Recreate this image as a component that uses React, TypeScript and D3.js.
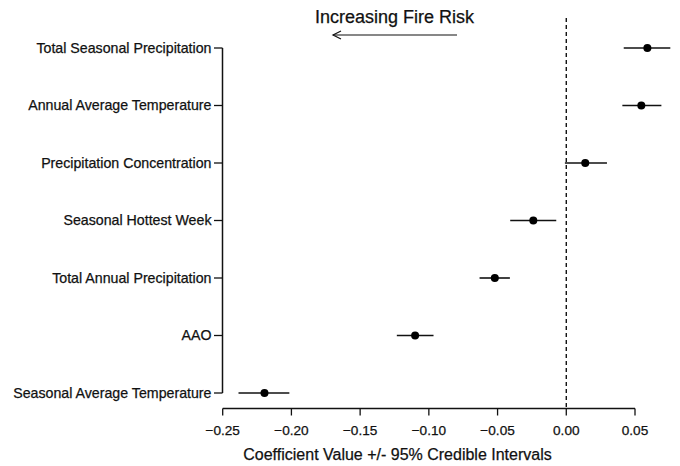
import React from "react";
import * as d3 from "d3";

// coefficient estimates and 95% credible intervals, top to bottom
const predictors = [
  "Total Seasonal Precipitation",
  "Annual Average Temperature",
  "Precipitation Concentration",
  "Seasonal Hottest Week",
  "Total Annual Precipitation",
  "AAO",
  "Seasonal Average Temperature",
];
const estimates = [0.059, 0.0546, 0.0138, -0.024, -0.052, -0.11, -0.2196];
const lowers = [0.0418, 0.0408, -0.001, -0.0408, -0.0631, -0.1233, -0.2385];
const uppers = [0.0757, 0.0692, 0.0296, -0.0073, -0.041, -0.0966, -0.2015];
const xTicks = [-0.25, -0.2, -0.15, -0.1, -0.05, 0, 0.05];

const W = 680;
const H = 466;
const font = "'Liberation Sans', Arial, Helvetica, sans-serif";

export default function App() {
  const x = d3.scaleLinear().domain([-0.25, 0.05]).range([222.7, 635]);
  const y = d3
    .scalePoint<string>()
    .domain(predictors)
    .range([48, 393]);

  const axisY = 408.5;
  const yAxisX = 222.5;
  const fmt = d3.format(".2f");

  // arrow: pointing left toward increasing fire risk
  const arrowY = 35;
  const arrowL = 333;
  const arrowR = 457;

  const txt = { fill: "#111", stroke: "#111", strokeWidth: 0.25 };

  return (
    <svg
      width={W}
      height={H}
      style={{ position: "absolute", left: 0, top: 0, background: "#fff" }}
      fontFamily={font}
    >
      {/* title and arrow */}
      <text x={394.5} y={23} textAnchor="middle" fontSize={18} {...txt}>
        Increasing Fire Risk
      </text>
      <line x1={arrowL} x2={arrowR} y1={arrowY} y2={arrowY} stroke="#111" strokeWidth={1.2} />
      <path
        d={`M${arrowL + 8},${arrowY - 4} L${arrowL},${arrowY} L${arrowL + 8},${arrowY + 4}`}
        fill="none"
        stroke="#111"
        strokeWidth={1.2}
      />

      {/* zero reference line */}
      <line
        x1={x(0)}
        x2={x(0)}
        y1={18}
        y2={axisY}
        stroke="#111"
        strokeWidth={1.4}
        strokeDasharray="4,3"
      />

      {/* y axis */}
      <line x1={yAxisX} x2={yAxisX} y1={y(predictors[0])} y2={y(predictors[predictors.length - 1])} stroke="#111" strokeWidth={1.5} />
      {predictors.map((p) => (
        <g key={p}>
          <line x1={yAxisX - 8.5} x2={yAxisX} y1={y(p)} y2={y(p)} stroke="#111" strokeWidth={1.3} />
          <text
            x={yAxisX - 11}
            y={y(p)}
            dy="0.35em"
            textAnchor="end"
            fontSize={14.2}
            {...txt}
          >
            {p}
          </text>
        </g>
      ))}

      {/* x axis */}
      <line x1={x(xTicks[0])} x2={x(xTicks[xTicks.length - 1])} y1={axisY} y2={axisY} stroke="#111" strokeWidth={1.5} />
      {xTicks.map((t) => (
        <g key={t}>
          <line x1={x(t)} x2={x(t)} y1={axisY} y2={axisY + 7} stroke="#111" strokeWidth={1.3} />
          <text x={x(t)} y={435} textAnchor="middle" fontSize={13.6} {...txt}>
            {fmt(t)}
          </text>
        </g>
      ))}
      <text x={397.5} y={460} textAnchor="middle" fontSize={16} {...txt}>
        Coefficient Value +/- 95% Credible Intervals
      </text>

      {/* estimates with intervals */}
      {predictors.map((p, i) => (
        <g key={"pt" + p}>
          <line
            x1={x(lowers[i])}
            x2={x(uppers[i])}
            y1={y(p)}
            y2={y(p)}
            stroke="#111"
            strokeWidth={1.6}
          />
          <circle cx={x(estimates[i])} cy={y(p)} r={4} fill="#000" />
        </g>
      ))}
    </svg>
  );
}
